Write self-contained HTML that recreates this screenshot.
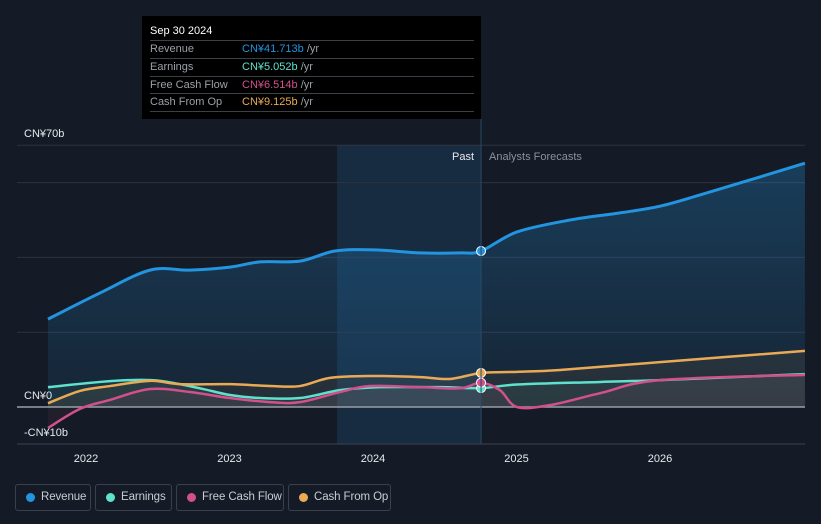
<!DOCTYPE html>
<html><head><meta charset="utf-8"><style>
body{margin:0;background:#151b26;font-family:"Liberation Sans","Noto Sans CJK SC",sans-serif;}
#wrap{position:relative;width:821px;height:524px;overflow:hidden;background:#151b26}
svg{position:absolute;left:0;top:0}
.leg{position:absolute;top:484px;height:27px;border:1px solid #3a414d;border-radius:3px;color:#c9ccd2;font-size:11.5px;line-height:25px;box-sizing:border-box;padding-left:25px;white-space:nowrap;letter-spacing:-0.1px}
.leg i{position:absolute;left:10px;top:8px;width:9px;height:9px;border-radius:50%}
#tip{position:absolute;left:142px;top:16px;width:339px;height:103px;background:#000;color:#fff;font-size:11px}
#tip .h{position:absolute;left:8px;top:9px;font-size:11px}
#tip .r{position:absolute;left:8px;width:324px;height:17px;border-top:1px solid #3a3f48;color:#9aa0a8;line-height:17px}
#tip .r span{position:absolute;left:92px}
</style></head><body>
<div id="wrap">
<svg id="chart" width="821" height="524"></svg>
<div id="tip">
<div class="h">Sep 30 2024</div>
<div class="r" style="top:24px">Revenue<span><b style="font-weight:normal;color:#2394df">CN¥41.713b</b> /yr</span></div>
<div class="r" style="top:42px">Earnings<span><b style="font-weight:normal;color:#5fe1cb">CN¥5.052b</b> /yr</span></div>
<div class="r" style="top:60px">Free Cash Flow<span><b style="font-weight:normal;color:#d2508b">CN¥6.514b</b> /yr</span></div>
<div class="r" style="top:77px;border-bottom:1px solid #3a3f48">Cash From Op<span><b style="font-weight:normal;color:#eaaa55">CN¥9.125b</b> /yr</span></div>
</div>
<div class="leg" style="left:15px;width:76px"><i style="background:#2394df"></i>Revenue</div>
<div class="leg" style="left:95px;width:77px"><i style="background:#5fe1cb"></i>Earnings</div>
<div class="leg" style="left:176px;width:108px"><i style="background:#d2508b"></i>Free Cash Flow</div>
<div class="leg" style="left:288px;width:103px"><i style="background:#eaaa55"></i>Cash From Op</div>
</div>
<script>
const revX=[2021.735,2022.098,2022.446,2022.725,2023.003,2023.213,2023.491,2023.735,2024.014,2024.328,2024.606,2024.753,2025.003,2025.373,2025.721,2026.0,2026.279,2026.627,2027.01];
const revY=[23.5,30.5,36.6,36.6,37.4,38.8,39,41.7,42,41.2,41.2,41.7,46.8,50,51.9,53.7,56.7,60.7,65.2];
const earnX=[2021.735,2022.098,2022.307,2022.516,2022.794,2023.003,2023.213,2023.491,2023.770,2024.049,2024.467,2024.753,2025.003,2025.582,2026.0,2027.01];
const earnY=[5.3,6.7,7.2,7,5,3.2,2.4,2.4,4.5,5.3,5.3,5.05,6,6.7,7.2,8.8];
const fcfX=[2021.735,2021.958,2022.167,2022.446,2022.725,2023.003,2023.282,2023.491,2023.770,2023.979,2024.328,2024.606,2024.753,2024.885,2025.003,2025.233,2025.582,2026.0,2027.01];
const fcfY=[-5.6,-0.5,1.9,4.8,4,2.4,1.3,1.3,4,5.6,5.3,5,6.5,4.5,0,0.5,3.7,7.2,8.6];
const cfoX=[2021.735,2021.958,2022.167,2022.446,2022.655,2023.003,2023.282,2023.491,2023.700,2023.979,2024.328,2024.537,2024.753,2025.003,2025.303,2026.0,2027.01];
const cfoY=[1,4.3,5.6,7,6.1,6.1,5.6,5.6,7.8,8.3,8,7.5,9.1,9.4,9.9,12,15];
const yearTicks=[2022,2023,2024,2025,2026];
const pastEnd=2024.753, hlStart=2023.75;
const NS='http://www.w3.org/2000/svg';
const svg=document.getElementById('chart');
const X=t=>86+(t-2022)*143.5;
const Y=v=>407-v*3.74;
function el(tag,a,parent){const e=document.createElementNS(NS,tag);for(const k in a)e.setAttribute(k,a[k]);(parent||svg).appendChild(e);return e;}
function path(xs,ys){const p=xs.map((x,i)=>[X(x),Y(ys[i])]);let d='M'+p[0][0]+','+p[0][1];
for(let i=0;i<p.length-1;i++){const p0=p[i-1]||p[i],p1=p[i],p2=p[i+1],p3=p[i+2]||p2;
const c1=[p1[0]+(p2[0]-p0[0])/6,p1[1]+(p2[1]-p0[1])/6],c2=[p2[0]-(p3[0]-p1[0])/6,p2[1]-(p3[1]-p1[1])/6];
d+=` C${c1[0]},${c1[1]} ${c2[0]},${c2[1]} ${p2[0]},${p2[1]}`;}return d;}
const defs=el('defs',{});
const g=el('linearGradient',{id:'rg',x1:0,y1:0,x2:0,y2:1},defs);
el('stop',{offset:'0','stop-color':'#2394df','stop-opacity':'0.28'},g);
el('stop',{offset:'1','stop-color':'#2394df','stop-opacity':'0.08'},g);
const hl=el('rect',{x:X(hlStart),y:145,width:X(pastEnd)-X(hlStart),height:299,fill:'#1b3a57',opacity:0.55});

[70,60,40,20].forEach(v=>{const l=el('line',{x1:17,x2:805,y1:Y(v),y2:Y(v),stroke:'#2c333f','stroke-width':1});
});
const ra=el('path',{d:path(revX,revY)+` L${X(revX[revX.length-1])},${Y(0)} L${X(revX[0])},${Y(0)} Z`,fill:'url(#rg)'});

const series=[[earnX,earnY,'#5fe1cb','earnings'],[fcfX,fcfY,'#d2508b','free-cash-flow'],[cfoX,cfoY,'#eaaa55','cash-from-op']];
series.forEach(s=>{const a=el('path',{d:path(s[0],s[1])+` L${X(s[0][s[0].length-1])},${Y(0)} L${X(s[0][0])},${Y(0)} Z`,fill:s[2],opacity:0.07});
});
const z=el('line',{x1:17,x2:805,y1:Y(0),y2:Y(0),stroke:'#9a9ea6','stroke-width':1.5});

[[revX,revY,'#2394df','revenue']].concat(series).forEach(s=>{const l=el('path',{d:path(s[0],s[1]),fill:'none',stroke:s[2],'stroke-width':s[3]=='revenue'?3:2.5});
});
[[revX,revY,'#2394df','revenue'],[earnX,earnY,'#5fe1cb','earnings'],[fcfX,fcfY,'#d2508b','free-cash-flow'],[cfoX,cfoY,'#eaaa55','cash-from-op']].forEach(s=>{
const i=s[0].indexOf(pastEnd);const c=el('circle',{cx:X(pastEnd),cy:Y(s[1][i]),r:4.5,fill:s[2],stroke:'#fff','stroke-width':1});
});
const pl=el('line',{x1:X(pastEnd),x2:X(pastEnd),y1:119,y2:444,stroke:'#2a4a66','stroke-width':1});

const ax=el('line',{x1:17,x2:805,y1:444,y2:444,stroke:'#3a414d','stroke-width':1});

yearTicks.forEach(t=>{const tx=el('text',{x:X(t),y:462,fill:'#e6e8ec','font-size':11,'text-anchor':'middle'});tx.textContent=t;
});
[['CN¥70b',137],['CN¥0',399],['-CN¥10b',436]].forEach(a=>{const t=el('text',{x:24,y:a[1],fill:'#e6e8ec','font-size':11});t.textContent=a[0];
});
const pt=el('text',{x:474,y:160,fill:'#e6e8ec','font-size':11,'text-anchor':'end'});pt.textContent='Past';

const ft=el('text',{x:489,y:160,fill:'#8b919a','font-size':11});ft.textContent='Analysts Forecasts';

</script>
</body></html>
